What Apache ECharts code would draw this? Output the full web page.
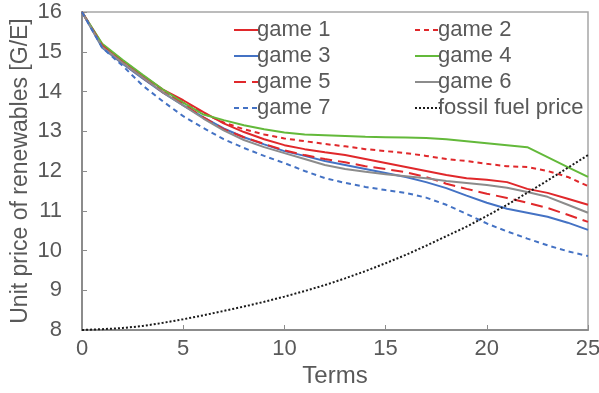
<!DOCTYPE html>
<html>
<head>
<meta charset="UTF-8">
<script src="https://cdn.jsdelivr.net/npm/echarts@6/dist/echarts.min.js"></script>
<style>
  body { margin: 0; background: #fff; }
  #main { width: 599px; height: 393px; }
</style>
</head>
<body>
<div id="main"></div>
<script>
  // terms on the x axis
  const terms = [0, 1, 2, 3, 4, 5, 6, 7, 8, 9, 10, 11, 12, 13, 14, 15, 16, 17, 18, 19, 20, 21, 22, 23, 24, 25];

  // unit price of renewables per game
  const game1 = [16, 15.18, 14.78, 14.4, 14.05, 13.78, 13.48, 13.2, 12.98, 12.8, 12.65, 12.55, 12.47, 12.4, 12.3, 12.2, 12.1, 12.0, 11.9, 11.82, 11.78, 11.72, 11.55, 11.45, 11.3, 11.15];
  const game2 = [16, 15.15, 14.75, 14.38, 14.02, 13.72, 13.45, 13.22, 13.05, 12.92, 12.82, 12.75, 12.68, 12.62, 12.55, 12.5, 12.45, 12.38, 12.3, 12.25, 12.18, 12.12, 12.1, 12.0, 11.85, 11.62];
  const game3 = [16, 15.1, 14.7, 14.33, 13.97, 13.65, 13.35, 13.07, 12.85, 12.67, 12.5, 12.38, 12.25, 12.15, 12.05, 11.95, 11.85, 11.72, 11.57, 11.38, 11.2, 11.05, 10.95, 10.85, 10.7, 10.52];
  const game4 = [16, 15.2, 14.8, 14.42, 14.05, 13.72, 13.42, 13.28, 13.15, 13.05, 12.97, 12.92, 12.9, 12.88, 12.86, 12.85, 12.84, 12.83, 12.8, 12.75, 12.7, 12.65, 12.6, 12.35, 12.1, 11.85];
  const game5 = [16, 15.15, 14.72, 14.35, 13.98, 13.68, 13.35, 13.05, 12.85, 12.68, 12.52, 12.4, 12.3, 12.22, 12.12, 12.05, 11.97, 11.85, 11.68, 11.55, 11.43, 11.32, 11.2, 11.07, 10.9, 10.72];
  const game6 = [16, 15.12, 14.72, 14.35, 13.98, 13.65, 13.32, 13.02, 12.78, 12.6, 12.45, 12.3, 12.15, 12.05, 11.98, 11.92, 11.87, 11.82, 11.75, 11.7, 11.65, 11.58, 11.47, 11.35, 11.15, 10.95];
  const game7 = [16, 15.1, 14.65, 14.15, 13.75, 13.38, 13.08, 12.8, 12.58, 12.38, 12.2, 12.0, 11.82, 11.7, 11.6, 11.52, 11.45, 11.33, 11.15, 10.92, 10.68, 10.48, 10.3, 10.13, 9.98, 9.86];
  const fossil = [8.0, 8.02, 8.05, 8.1, 8.18, 8.27, 8.37, 8.48, 8.59, 8.71, 8.84, 8.98, 9.13, 9.3, 9.48, 9.68, 9.89, 10.12, 10.36, 10.6, 10.87, 11.15, 11.45, 11.76, 12.08, 12.4];

  const textColor = '#595959';
  const axisColor = '#8c8c8c';
  const font = 'Liberation Sans';

  function pairs(values) {
    return terms.map((t, i) => [t, values[i]]);
  }

  function lineSeries(name, values, color, type, width) {
    return {
      name: name,
      type: 'line',
      data: pairs(values),
      symbol: 'none',
      silent: true,
      lineStyle: { color: color, width: width || 2, type: type },
      itemStyle: { color: color }
    };
  }

  const chart = echarts.init(document.getElementById('main'));

  const legendBase = {
    orient: 'vertical',
    top: 14,
    itemWidth: 25,
    itemHeight: 10,
    itemGap: 4,
    itemStyle: { opacity: 0 },
    textStyle: { color: textColor, fontSize: 22, fontFamily: font, padding: [0, 0, 0, -7] }
  };

  chart.setOption({
    animation: false,
    backgroundColor: '#fff',
    grid: {
      left: 82, top: 12, right: 11, bottom: 63,
      outerBoundsMode: 'none',
      containLabel: false,
      show: true, borderColor: '#a6a6a6', borderWidth: 1.5
    },
    legend: [
      Object.assign({}, legendBase, { left: 228, data: ['game 1', 'game 3', 'game 5', 'game 7'] }),
      Object.assign({}, legendBase, { left: 409, data: ['game 2', 'game 4', 'game 6', 'fossil fuel price'] })
    ],
    xAxis: {
      type: 'value',
      min: 0, max: 25, interval: 5,
      name: 'Terms',
      nameLocation: 'middle',
      nameGap: 34,
      nameMoveOverlap: false,
      nameTextStyle: { color: textColor, fontSize: 24, fontFamily: font },
      axisLine: { lineStyle: { color: axisColor, width: 2 } },
      axisTick: { inside: true, length: 5, lineStyle: { color: axisColor } },
      axisLabel: { color: textColor, fontSize: 22, fontFamily: font, margin: 8 },
      splitLine: { show: false }
    },
    yAxis: {
      type: 'value',
      min: 8, max: 16, interval: 1,
      name: 'Unit price of renewables [G/E]',
      nameLocation: 'middle',
      nameGap: 50,
      nameMoveOverlap: false,
      nameTextStyle: { color: textColor, fontSize: 23, fontFamily: font },
      axisLine: { show: true, lineStyle: { color: axisColor, width: 2 } },
      axisTick: { show: true, inside: true, length: 5, lineStyle: { color: axisColor } },
      axisLabel: { color: textColor, fontSize: 22, fontFamily: font, margin: 20 },
      splitLine: { show: false }
    },
    series: [
      lineSeries('game 1', game1, '#e0282b', 'solid'),
      lineSeries('game 2', game2, '#e0282b', [5, 4]),
      lineSeries('game 3', game3, '#4472c4', 'solid'),
      lineSeries('game 4', game4, '#63b93a', 'solid'),
      lineSeries('game 5', game5, '#e0282b', [12, 6]),
      lineSeries('game 6', game6, '#8c8c8c', 'solid'),
      lineSeries('game 7', game7, '#4472c4', [5, 4]),
      lineSeries('fossil fuel price', fossil, '#1a1a1a', [2, 2])
    ]
  });
</script>
</body>
</html>
